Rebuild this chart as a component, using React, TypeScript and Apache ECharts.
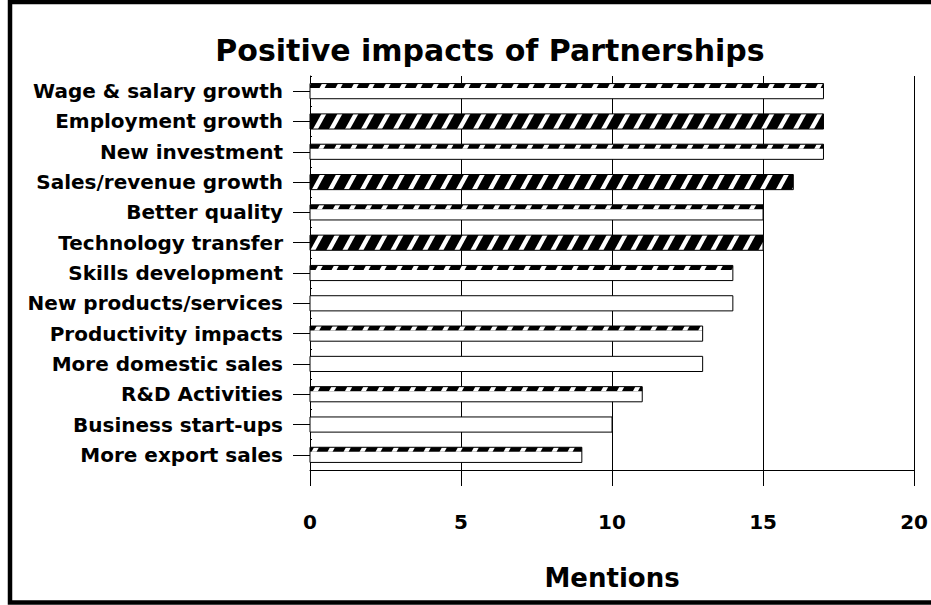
import React, { useEffect, useRef } from 'react';
import * as echarts from 'echarts';

const categories = [
  'Wage & salary growth',
  'Employment growth',
  'New investment',
  'Sales/revenue growth',
  'Better quality',
  'Technology transfer',
  'Skills development',
  'New products/services',
  'Productivity impacts',
  'More domestic sales',
  'R&D Activities',
  'Business start-ups',
  'More export sales',
];
const mentions = [17, 17, 17, 16, 15, 15, 14, 14, 13, 13, 11, 10, 9];
const xMin = 0;
const xMax = 20;
const xStep = 5;

// fill style per bar (style only): hatched band on top, fully hatched, or plain
const barFills = ['band', 'full', 'band', 'full', 'band', 'full', 'band', 'none', 'band', 'none', 'band', 'none', 'band'];

const FONT = 'DejaVu Sans';
const STRIPE_P = 16;
const STRIPE_W = 5;
const STRIPE_S = 0.55;
const BAND_H = 4.5;

type Pt = number[];
function clipEdge(pts: Pt[], inside: (p: Pt) => boolean, inter: (a: Pt, b: Pt) => Pt): Pt[] {
  const out: Pt[] = [];
  for (let i = 0; i < pts.length; i++) {
    const cur = pts[i];
    const prev = pts[(i + pts.length - 1) % pts.length];
    const cIn = inside(cur);
    const pIn = inside(prev);
    if (cIn) {
      if (!pIn) out.push(inter(prev, cur));
      out.push(cur);
    } else if (pIn) {
      out.push(inter(prev, cur));
    }
  }
  return out;
}
function clipRect(poly: Pt[], x0: number, y0: number, x1: number, y1: number): Pt[] {
  const ix = (xv: number) => (a: Pt, b: Pt) => {
    const t = (xv - a[0]) / (b[0] - a[0]);
    return [xv, a[1] + t * (b[1] - a[1])];
  };
  const iy = (yv: number) => (a: Pt, b: Pt) => {
    const t = (yv - a[1]) / (b[1] - a[1]);
    return [a[0] + t * (b[0] - a[0]), yv];
  };
  let p = poly;
  p = clipEdge(p, (q) => q[0] >= x0, ix(x0));
  if (p.length) p = clipEdge(p, (q) => q[0] <= x1, ix(x1));
  if (p.length) p = clipEdge(p, (q) => q[1] >= y0, iy(y0));
  if (p.length) p = clipEdge(p, (q) => q[1] <= y1, iy(y1));
  return p;
}

export default function App() {
  const ref = useRef<HTMLDivElement>(null);
  useEffect(() => {
    if (!ref.current) return;
    const chart = echarts.init(ref.current, null, { renderer: 'svg' });
    const option: any = {
      animation: false,
      backgroundColor: '#fff',
      title: {
        text: 'Positive impacts of Partnerships',
        left: 490,
        top: 35,
        textAlign: 'center',
        padding: 0,
        textStyle: { fontFamily: FONT, fontWeight: 'bold', fontSize: 30, color: '#000', lineHeight: 30 },
      },
      graphic: [
        {
          type: 'rect',
          shape: { x: 10, y: 2, width: 1000, height: 600.5 },
          style: { fill: 'none', stroke: '#000', lineWidth: 4.5 },
          silent: true,
          z: 100,
        },
      ],
      grid: { left: 310, right: 14, top: 76, bottom: 135 },
      xAxis: {
        type: 'value',
        min: xMin,
        max: xMax,
        interval: xStep,
        name: 'Mentions',
        nameLocation: 'middle',
        nameGap: 95,
        nameTextStyle: { fontFamily: FONT, fontWeight: 'bold', fontSize: 26, color: '#000', lineHeight: 26 },
        axisLine: { show: true, lineStyle: { color: '#000', width: 1 } },
        axisTick: { show: true, length: 16, lineStyle: { color: '#000', width: 1 } },
        axisLabel: { margin: 42, fontFamily: FONT, fontWeight: 'bold', fontSize: 20, color: '#000', lineHeight: 20 },
        splitLine: { show: true, lineStyle: { color: '#000', width: 1 } },
      },
      yAxis: [
        {
          type: 'category',
          inverse: true,
          data: categories,
          axisLine: { show: true, lineStyle: { color: '#000', width: 1 } },
          axisTick: { show: true, alignWithLabel: true, length: 17, lineStyle: { color: '#000', width: 1 } },
          axisLabel: { margin: 27, fontFamily: FONT, fontWeight: 'bold', fontSize: 20, color: '#000' },
          splitLine: { show: false },
        },
        {
          type: 'category',
          inverse: true,
          position: 'left',
          data: categories,
          axisLine: { show: false },
          axisTick: { show: true, inside: true, length: 2, lineStyle: { color: '#000', width: 1 } },
          axisLabel: { show: false },
          splitLine: { show: false },
        },
      ],
      series: [
        {
          type: 'custom',
          xAxisIndex: 0,
          yAxisIndex: 0,
          encode: { x: 0, y: 1 },
          data: mentions.map((v, i) => [v, i]),
          renderItem: (params: any, api: any) => {
            const idx = params.dataIndex;
            const v = api.value(0);
            const c = api.value(1);
            const p0 = api.coord([0, c]);
            const p1 = api.coord([v, c]);
            const band = api.size([0, 1])[1];
            const h = band * 0.5;
            const x0 = p0[0];
            const x1 = p1[0];
            const y0 = p0[1] - h / 2;
            const y1 = y0 + h;
            const children: any[] = [
              { type: 'rect', shape: { x: x0, y: y0, width: x1 - x0, height: h }, style: { fill: '#fff' } },
            ];
            const kind = barFills[idx];
            if (kind !== 'none') {
              const hy1 = kind === 'full' ? y1 : y0 + BAND_H;
              children.push({
                type: 'rect',
                shape: { x: x0, y: y0, width: x1 - x0, height: hy1 - y0 },
                style: { fill: '#000' },
              });
              const uMin = x0 + STRIPE_S * y0 - STRIPE_W;
              const uMax = x1 + STRIPE_S * hy1;
              for (let k = Math.floor(uMin / STRIPE_P); k * STRIPE_P <= uMax; k++) {
                const u = k * STRIPE_P;
                const poly = [
                  [u - STRIPE_S * y0, y0],
                  [u + STRIPE_W - STRIPE_S * y0, y0],
                  [u + STRIPE_W - STRIPE_S * hy1, hy1],
                  [u - STRIPE_S * hy1, hy1],
                ];
                const clipped = clipRect(poly, x0, y0, x1, hy1);
                if (clipped.length >= 3) {
                  children.push({ type: 'polygon', shape: { points: clipped }, style: { fill: '#fff' } });
                }
              }
            }
            children.push({
              type: 'rect',
              shape: { x: x0, y: y0, width: x1 - x0, height: h },
              style: { fill: 'none', stroke: '#000', lineWidth: 1 },
            });
            return { type: 'group', children };
          },
        },
      ],
    };
    chart.setOption(option);
    return () => chart.dispose();
  }, []);
  return (
    <div
      ref={ref}
      style={{ position: 'fixed', left: 0, top: 0, width: 931, height: 605, background: '#fff' }}
    />
  );
}
